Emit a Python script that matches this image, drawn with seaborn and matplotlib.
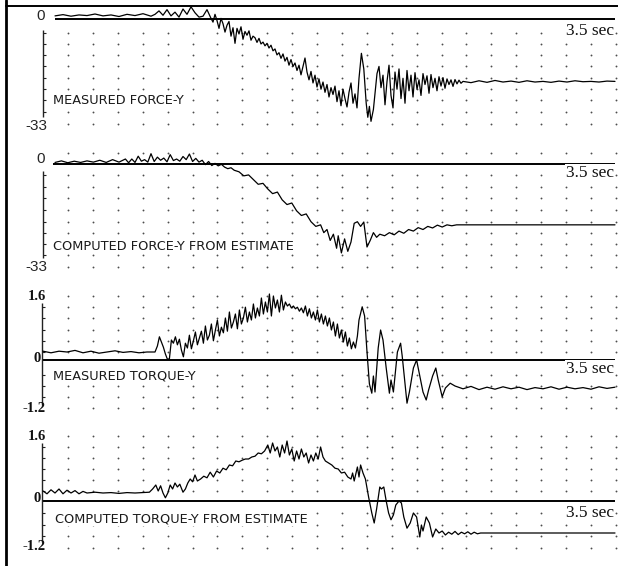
import numpy as np
import pandas as pd
import matplotlib
matplotlib.use("Agg")
import matplotlib.pyplot as plt
import seaborn as sns
from matplotlib.lines import Line2D

# ---------------- data ----------------
panel_titles = ["MEASURED FORCE-Y", "COMPUTED FORCE-Y FROM ESTIMATE",
                "MEASURED TORQUE-Y", "COMPUTED TORQUE-Y FROM ESTIMATE"]
force_ticks = ["0", "-33"]
torque_ticks = ["1.6", "0", "-1.2"]
end_label = "3.5 sec"

mf_t = [0, .05, .1, .15, .2, .25, .3, .35, .4, .45, .5, .55, .6,
        .625, .65, .675, .7, .725, .75, .775, .8, .825, .85, .875, .9, .925, .95, .975,
        .9875, 1.0, 1.0125, 1.025, 1.0375, 1.05, 1.0625, 1.075, 1.0875, 1.1, 1.1125, 1.125,
        1.1375, 1.15, 1.1625, 1.175, 1.1875, 1.2,
        1.2125, 1.225, 1.2375, 1.25, 1.2625, 1.275, 1.2875, 1.3, 1.3125, 1.325, 1.3375, 1.35,
        1.3625, 1.375, 1.3875, 1.4, 1.4125, 1.425, 1.4375, 1.45, 1.4625, 1.475, 1.4875, 1.5,
        1.5125, 1.525, 1.5375, 1.55, 1.5625, 1.575, 1.5875, 1.6, 1.6125, 1.625, 1.6375, 1.65,
        1.6625,
        1.675, 1.6875, 1.7, 1.7125, 1.725, 1.7375, 1.75, 1.7625, 1.775, 1.7875, 1.8, 1.8125,
        1.825, 1.8375, 1.85, 1.8625, 1.875, 1.8875, 1.9,
        1.915, 1.93, 1.945, 1.955, 1.965, 1.975, 1.99,
        2.0, 2.0125, 2.025, 2.0375, 2.05, 2.0625, 2.075, 2.0875, 2.1, 2.1125, 2.125, 2.1375,
        2.15, 2.1625, 2.175, 2.1875, 2.2, 2.2125, 2.225, 2.2375, 2.25, 2.2625, 2.275, 2.2875,
        2.3, 2.3125, 2.325, 2.3375, 2.35, 2.3625, 2.375, 2.3875, 2.4, 2.4125, 2.425, 2.4375,
        2.45, 2.4625, 2.475, 2.4875, 2.5, 2.5125, 2.525, 2.5375, 2.55,
        2.6, 2.65, 2.7, 2.75, 2.8, 2.85, 2.9, 2.95, 3.0, 3.05, 3.1, 3.15, 3.2, 3.25,
        3.3, 3.35, 3.4, 3.45, 3.5]
mf_v = [1.0, 1.4, 0.9, 1.3, 1.1, 1.6, 1.0, 1.3, 0.8, 1.5, 1.1, 1.7, 0.9,
        1.5, 2.6, 1.2, 3.0, 1.0, 2.2, 0.6, 3.2, 1.5, 3.9, 2.0, 0.6, 0.9, 3.0, 0.2,
        -1.0, 1.5, -0.5, -3.0, 0.2, -1.5, -4.2, -2.0, -0.8, -5.5, -2.8, -7.8,
        -3.0, -4.8, -2.5, -6.5, -4.0, -5.2,
        -3.8, -6.8, -5.5, -6.0, -7.5, -6.2, -8.0, -7.4, -8.6, -7.8, -9.3, -8.4,
        -10.2, -9.6, -11.5, -10.8, -12.6, -11.2, -13.5, -12.3, -14.8, -13.0, -15.2, -14.1,
        -16.5, -14.8, -17.9, -15.2, -12.5, -17.0, -19.5, -16.8, -20.5, -18.0, -21.8, -19.2,
        -22.5,
        -20.2, -23.5, -21.0, -25.0, -22.0, -24.2, -21.5, -26.5, -23.0, -27.8, -22.5, -25.5,
        -28.2, -23.5, -20.5, -27.0, -24.0, -28.5, -19.0,
        -11.0, -16.0, -27.0, -31.5, -28.0, -32.8, -29.0,
        -24.0, -17.5, -15.2, -22.0, -18.0, -27.5, -20.0, -14.8, -24.5, -28.5, -17.0, -22.5,
        -16.0, -25.5, -19.0, -27.0, -16.5, -23.0, -18.0, -25.0, -17.2, -22.5, -19.5, -24.5,
        -17.5, -21.0, -18.2, -23.8, -17.8, -22.0, -19.0, -23.0, -18.5, -21.5, -18.8, -22.2,
        -19.2, -21.0, -19.5, -21.6, -19.4, -20.8, -19.6, -20.6, -20.0,
        -20.4, -19.8, -20.3, -19.7, -20.2, -19.9, -20.3, -19.8, -20.2, -20.0, -20.3,
        -19.9, -20.2, -19.8, -20.1, -20.0, -20.2, -19.9, -20.0]

cf_t = [0, .04, .08, .12, .16, .2, .24, .28, .32, .36, .4, .44,
        .46, .48, .50, .52, .54, .56, .58, .60, .62, .64, .66, .68, .70, .72, .74, .76, .78,
        .80, .82, .84,
        .86, .88, .90, .92, .94, .96, .98, 1.0, 1.02, 1.04, 1.06, 1.08, 1.10,
        1.12, 1.15, 1.18, 1.21, 1.24, 1.27, 1.30, 1.33, 1.36, 1.39, 1.42, 1.45, 1.48, 1.51,
        1.54, 1.57, 1.60, 1.63, 1.66,
        1.68, 1.70, 1.72, 1.74, 1.76, 1.77, 1.79, 1.81, 1.83, 1.85,
        1.87, 1.89, 1.91, 1.93, 1.95, 1.97,
        1.99, 2.01, 2.03, 2.06, 2.09, 2.12, 2.15, 2.18, 2.21, 2.24, 2.27, 2.30, 2.33, 2.36,
        2.39, 2.42, 2.45, 2.48, 2.51,
        2.6, 3.0, 3.5]
cf_v = [0.5, 1.0, 0.4, 0.9, 0.5, 1.0, 0.6, 1.2, 0.5, 1.4, 0.6, 1.6,
        0.4, 1.6, 0.5, 2.5, 0.9, 1.4, 0.6, 3.3, 0.8, 2.2, 1.2, 1.9, 0.7, 3.0, 1.1, 1.6, 0.9,
        2.4, 1.4, 3.2,
        0.8, 1.8, 0.6, 1.2, -0.2, 0.8, -0.5, 0.2, -0.6, -0.1, -1.0, -1.5, -1.2,
        -2.0, -2.5, -3.8, -3.5, -5.0, -6.5, -6.2, -8.0, -9.5, -9.0, -11.5, -13.0, -12.5, -15.0,
        -16.5, -16.0, -18.5, -20.0, -19.5,
        -22.0, -21.0, -24.5, -22.5, -27.0, -23.0, -28.5, -24.0, -28.0, -25.0,
        -19.0, -18.5, -20.0, -18.6, -26.6, -24.5,
        -22.0, -23.5, -22.5, -23.0, -22.0, -22.7, -21.5, -22.2, -21.0, -21.5, -20.4, -21.0,
        -20.0, -20.5, -19.6, -20.2, -19.5, -19.8, -19.5,
        -19.5, -19.5, -19.5]

mt_t = [-0.075, -0.025, 0.025, 0.075, 0.125, 0.175, 0.225, 0.275, 0.325, 0.375, 0.425,
        0.475, 0.525, 0.575, 0.625,
        .64, .6525, .665, .6775, .69, .7025, .715, .7275, .74, .7525, .765, .7775, .79, .8025,
        .815, .8275, .84, .8525, .865, .8775, .89, .9025, .915, .9275, .94, .9525, .965,
        .9775, .99, 1.0025, 1.015, 1.0275, 1.04, 1.0525, 1.065, 1.0775, 1.09, 1.1025, 1.115,
        1.1275, 1.14, 1.1525, 1.165, 1.1775, 1.19, 1.2025, 1.215, 1.2275, 1.24, 1.2525,
        1.265, 1.2775, 1.29, 1.3025, 1.315, 1.3275, 1.34, 1.3525, 1.365, 1.3775, 1.39,
        1.4025, 1.415, 1.4275, 1.44, 1.4525, 1.465, 1.4775, 1.49, 1.5025, 1.515, 1.5275,
        1.54, 1.5525, 1.565, 1.5775, 1.59, 1.6025, 1.615, 1.6275, 1.64, 1.6525, 1.665,
        1.6775, 1.69, 1.7025, 1.715, 1.7275, 1.74, 1.7525, 1.765, 1.7775, 1.79, 1.8025,
        1.815, 1.8275, 1.84, 1.8525, 1.865, 1.8775, 1.89,
        1.90, 1.92, 1.935, 1.95, 1.965, 1.98, 1.99, 2.0,
        2.02, 2.035, 2.05, 2.07, 2.09, 2.1, 2.115, 2.14, 2.16, 2.17, 2.19, 2.2, 2.215,
        2.24, 2.26, 2.275, 2.3, 2.32, 2.335, 2.36, 2.38, 2.395, 2.42, 2.44, 2.47, 2.5,
        2.55, 2.6, 2.65, 2.7, 2.75, 2.8, 2.85, 2.9, 2.95, 3.0, 3.05, 3.1, 3.15, 3.2, 3.25,
        3.3, 3.35, 3.4, 3.45, 3.5]
mt_v = [0.22, 0.18, 0.22, 0.20, 0.24, 0.18, 0.22, 0.17, 0.20, 0.23, 0.19,
        0.21, 0.18, 0.20, 0.20,
        0.35, 0.58, 0.45, 0.32, 0.15, 0.02, 0.03, 0.50, 0.42, 0.58, 0.38, 0.52, 0.25, 0.08,
        0.42, 0.30, 0.62, 0.28, 0.48, 0.70, 0.38, 0.55, 0.72, 0.42, 0.85, 0.50, 0.62,
        0.90, 0.48, 0.75, 1.00, 0.60, 0.82, 0.68, 1.05, 0.72, 1.20, 0.80, 0.95,
        1.15, 0.78, 1.25, 0.90, 1.05, 1.32, 0.95, 1.20, 1.00, 1.40, 1.05,
        1.30, 1.10, 1.55, 1.15, 1.45, 1.20, 1.65, 1.10, 1.60, 1.30, 1.50,
        1.20, 1.62, 1.25, 1.45, 1.35, 1.40, 1.30, 1.35, 1.28, 1.32, 1.22,
        1.30, 1.18, 1.35, 1.10, 1.28, 1.05, 1.20, 1.00, 1.25, 0.95, 1.15,
        0.90, 1.10, 0.85, 1.05, 0.75, 0.95, 0.60, 0.90, 0.55, 0.75, 0.45,
        0.70, 0.35, 0.55, 0.28, 0.45, 0.30, 0.60,
        1.00, 1.33, 1.10, 0.20, -0.60, -0.83, -0.40, -0.80,
        0.30, 0.75, 0.50, -0.20, -0.83, -0.50, -0.80, 0.20, 0.42, 0.10, -0.70, -1.08, -0.80,
        -0.20, 0.00, -0.30, -0.80, -1.00, -0.75, -0.40, -0.20, -0.50, -0.92, -0.70, -0.58,
        -0.65,
        -0.72, -0.66, -0.74, -0.68, -0.73, -0.67, -0.72, -0.68, -0.74, -0.69, -0.72, -0.67,
        -0.73, -0.68, -0.72, -0.69, -0.73, -0.67, -0.71, -0.68]

ct_t = [-0.075, -0.05, -0.025, 0.0, 0.025, 0.05, 0.075, 0.1, 0.125, 0.15, 0.175, 0.2,
        0.25, 0.3, 0.35, 0.4, 0.45, 0.5, 0.55, 0.59,
        .61, .63, .645, .66, .675, .69, .705, .72, .735, .75, .765, .78, .80, .815, .83,
        .845, .86, .875, .89,
        .91, .93, .95, .97, .99, 1.01, 1.03, 1.05, 1.07, 1.09, 1.11, 1.13, 1.15, 1.17, 1.19,
        1.21, 1.23, 1.25, 1.27, 1.29, 1.31,
        1.33, 1.345, 1.36, 1.375, 1.39, 1.405, 1.42, 1.435, 1.45, 1.465, 1.48, 1.495, 1.51,
        1.525, 1.54, 1.555, 1.57, 1.585, 1.6, 1.615, 1.63, 1.645,
        1.66, 1.675, 1.69, 1.71, 1.73, 1.75, 1.77, 1.79, 1.81, 1.83, 1.85, 1.86, 1.87, 1.89,
        1.9, 1.91, 1.925, 1.94,
        1.96, 1.98, 1.995, 2.01, 2.03, 2.04, 2.055, 2.07, 2.085, 2.1, 2.115, 2.13, 2.15,
        2.165, 2.18, 2.2, 2.22, 2.24, 2.26, 2.28, 2.29, 2.3, 2.32, 2.34, 2.36, 2.38, 2.4,
        2.42, 2.44, 2.46, 2.48, 2.5, 2.52, 2.54, 2.56, 2.58, 2.6, 2.62, 2.64, 2.66, 2.7,
        3.0, 3.5]
ct_v = [0.25, 0.18, 0.28, 0.20, 0.30, 0.18, 0.27, 0.20, 0.26, 0.18, 0.24, 0.20,
        0.22, 0.20, 0.21, 0.19, 0.21, 0.20, 0.21, 0.22,
        0.30, 0.40, 0.25, 0.38, 0.20, 0.08, 0.20, 0.40, 0.30, 0.45, 0.35, 0.42, 0.22, 0.30,
        0.45, 0.55, 0.48, 0.65, 0.50,
        0.55, 0.62, 0.58, 0.72, 0.60, 0.75, 0.70, 0.82, 0.78, 0.90, 0.88, 1.00, 0.98, 1.02,
        1.05, 1.05, 1.10, 1.12, 1.20, 1.18, 1.25,
        1.40, 1.20, 1.45, 1.25, 1.35, 1.10, 1.40, 1.20, 1.50, 1.15, 1.30, 1.00, 1.25,
        1.05, 1.30, 1.10, 1.20, 0.95, 1.15, 1.00, 1.20, 1.05,
        1.35, 1.10, 1.00, 0.95, 0.90, 0.82, 0.80, 0.70, 0.72, 0.60, 0.55, 0.70, 0.50, 0.85,
        0.60, 0.90, 0.70, 0.55,
        0.10, -0.30, -0.55, -0.20, 0.35, 0.30, 0.35, 0.00, -0.30, -0.47, -0.35, -0.10, 0.00,
        -0.05, -0.40, -0.68, -0.55, -0.30, -0.40, -0.90, -0.60, -0.75, -0.40, -0.55, -0.90,
        -0.70, -0.80, -0.75, -0.85, -0.78, -0.83, -0.76, -0.84, -0.78, -0.82, -0.77, -0.83,
        -0.78, -0.82, -0.80, -0.80, -0.80, -0.80]

# ---------------- layout ----------------
sns.set_theme(style="white")
plt.rcParams['font.family'] = ['DejaVu Sans']

W, H = 618, 566
fig = plt.figure(figsize=(W / 100, H / 100), dpi=100)
fig.patch.set_facecolor("white")

T0_PX, T1_PX, T_END = 55, 615, 3.5
PX_PER_S = (T1_PX - T0_PX) / T_END


def px_to_t(px):
    return (px - T0_PX) / PX_PER_S


def make_ax(top, bot, zero, ppu):
    ax = fig.add_axes([0, 1 - bot / H, 1, (bot - top) / H])
    ax.set_xlim(px_to_t(0), px_to_t(W))
    ax.set_ylim((zero - bot) / ppu, (zero - top) / ppu)
    ax.axis("off")
    ax.patch.set_alpha(0)
    return ax


def ftext(x, y, s, **kw):
    fig.text(x / W, 1 - y / H, s, **kw)


panels = [
    dict(top=0, bot=140, zero=19, ppu=3.12, t=mf_t, v=mf_v, zl=55,
         ax_x=43, ax_rng=(30, 117), rows=[33, 44, 55, 66, 78, 89, 100, 112, 124]),
    dict(top=140, bot=280, zero=164, ppu=3.12, t=cf_t, v=cf_v, zl=53,
         ax_x=43, ax_rng=(171, 258), rows=[153, 175, 187, 198, 210, 222, 233, 244, 255, 267]),
    dict(top=280, bot=420, zero=360, ppu=40, t=mt_t, v=mt_v, zl=43,
         ax_x=42, ax_rng=(303, 405), rows=[296, 307, 318, 330, 341, 352, 375, 386, 397, 408]),
    dict(top=420, bot=566, zero=501, ppu=40, t=ct_t, v=ct_v, zl=43,
         ax_x=42, ax_rng=(443, 542), rows=[436, 447, 458, 469, 480, 491, 513, 525, 536, 548]),
]

dot_cols_px = np.arange(68, 618, 24.9)

for i, p in enumerate(panels):
    ax = make_ax(p["top"], p["bot"], p["zero"], p["ppu"])
    rows_v = [(p["zero"] - r) / p["ppu"] for r in p["rows"]]
    gx, gy = np.meshgrid([px_to_t(c) for c in dot_cols_px], rows_v)
    ax.scatter(gx.ravel(), gy.ravel(), s=1.8, color="#4d4d4d", linewidths=0, zorder=1)
    ax.hlines(0, px_to_t(p["zl"]), T_END, color="black", lw=1.4, zorder=2)
    y0 = (p["zero"] - p["ax_rng"][0]) / p["ppu"]
    y1 = (p["zero"] - p["ax_rng"][1]) / p["ppu"]
    ax.vlines(px_to_t(p["ax_x"]), y1, y0, color="#222222", lw=1.0, zorder=2)
    tick_v = [(p["zero"] - r) / p["ppu"] for r in p["rows"]
              if p["ax_rng"][0] <= r <= p["ax_rng"][1]]
    ax.hlines(tick_v, px_to_t(p["ax_x"]), px_to_t(p["ax_x"] + 2.5), color="#222222", lw=0.8)
    df = pd.DataFrame({"t": p["t"], "v": p["v"]})
    sns.lineplot(data=df, x="t", y="v", ax=ax, color="black", lw=0.9,
                 estimator=None, sort=False, legend=False, zorder=3)
    ax.axis("off")

# ---------------- texts ----------------
sans = dict(family="DejaVu Sans", color="#1a1a1a")
serif = dict(family="Liberation Serif", color="#111111")
wbox = dict(facecolor="white", edgecolor="none", pad=0.6)

ftext(41, 16, force_ticks[0], ha="center", va="center", fontsize=11, family="Liberation Sans")
ftext(47, 126, force_ticks[1], ha="right", va="center", fontsize=11, family="Liberation Sans")
ftext(41, 159, force_ticks[0], ha="center", va="center", fontsize=11, family="Liberation Sans")
ftext(47, 267, force_ticks[1], ha="right", va="center", fontsize=11, family="Liberation Sans")

for top_y, zero_y, bot_y in [(296, 359, 408), (436, 499, 547)]:
    ftext(46, top_y, torque_ticks[0], ha="right", va="center", fontsize=10.5, weight="bold", **serif)
    ftext(41, zero_y, torque_ticks[1], ha="right", va="center", fontsize=10.5, weight="bold", **serif)
    ftext(46, bot_y, torque_ticks[2], ha="right", va="center", fontsize=10.5, weight="bold", **serif)

for (x, y), s in zip([(53, 100), (53, 246), (53, 376), (55, 519)], panel_titles):
    ftext(x, y, s, ha="left", va="center", fontsize=9.3, bbox=wbox, zorder=5, **sans)

for y in [31, 173, 369, 513]:
    ftext(614, y, end_label, ha="right", va="center", fontsize=12.5, bbox=wbox, zorder=5,
          **serif)

fig.add_artist(Line2D([6 / W, 6 / W], [0, 1], transform=fig.transFigure,
                      color="black", lw=2.0))
fig.add_artist(Line2D([6 / W, 1], [1 - 6 / H, 1 - 6 / H], transform=fig.transFigure,
                      color="black", lw=1.4))

fig.savefig("out.png", dpi=100, facecolor="white")
